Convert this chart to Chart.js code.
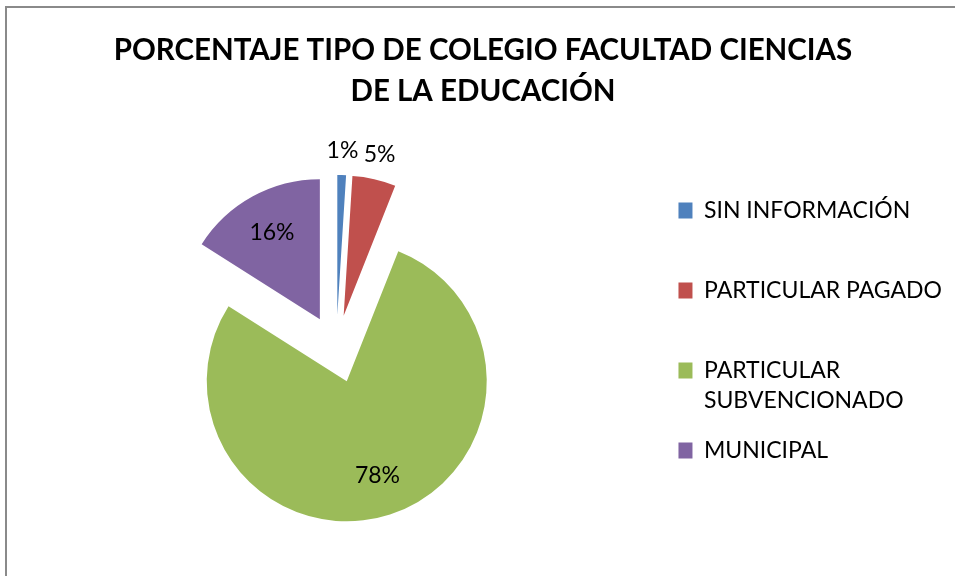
<!DOCTYPE html>
<html lang="es">
<head>
<meta charset="UTF-8">
<title>Porcentaje tipo de colegio</title>
<script src="https://cdn.jsdelivr.net/npm/chart.js"></script>
<style>
  body { margin: 0; background: #fff; }
  .wrap { position: relative; width: 955px; height: 576px; overflow: hidden; }
  .frame { position: absolute; left: 5px; top: 6px; width: 1000px; height: 600px; border: 2px solid #8a8a8a; }
  #pie { position: absolute; left: 0; top: 0; }
</style>
</head>
<body>
<div class="wrap">
  <div class="frame"></div>
  <canvas id="pie" width="955" height="576"></canvas>
</div>
<script>
const titleLines = ['PORCENTAJE TIPO DE COLEGIO FACULTAD CIENCIAS', 'DE LA EDUCACIÓN'];
const categories = ['SIN INFORMACIÓN', 'PARTICULAR PAGADO', 'PARTICULAR SUBVENCIONADO', 'MUNICIPAL'];
const percentages = [1, 5, 78, 16];
const colors = ['#4F81BD', '#C0504D', '#9BBB59', '#8064A2'];

const EXPLODE = 34; // px each slice is pulled out from the centre

// long legend entries go on two lines, short ones get an empty second line
function wrapLabel(label) {
  if (label.length > 20) {
    const cut = label.indexOf(' ');
    return [label.slice(0, cut), label.slice(cut + 1)];
  }
  return [label, ''];
}

// pull every slice out along its mid angle (the built-in offset narrows thin slices in 4.5)
const explode = {
  id: 'explode',
  beforeDatasetDraw(chart, args) {
    const area = chart.chartArea;
    const cx = (area.left + area.right) / 2;
    const cy = (area.top + area.bottom) / 2;
    args.meta.data.forEach(arc => {
      const mid = (arc.startAngle + arc.endAngle) / 2;
      arc.x = cx + Math.cos(mid) * EXPLODE;
      arc.y = cy + Math.sin(mid) * EXPLODE;
    });
  }
};

const sliceLabels = {
  id: 'sliceLabels',
  afterDatasetsDraw(chart) {
    const ctx = chart.ctx;
    const meta = chart.getDatasetMeta(0);
    ctx.save();
    ctx.font = '23px Lato';
    ctx.fillStyle = '#000';
    ctx.textAlign = 'center';
    ctx.textBaseline = 'middle';
    meta.data.forEach((arc, i) => {
      const mid = (arc.startAngle + arc.endAngle) / 2;
      const outside = percentages[i] < 10;
      const dist = outside ? arc.outerRadius + 25 : 0.71 * arc.outerRadius;
      ctx.fillText(percentages[i] + '%', arc.x + Math.cos(mid) * dist, arc.y + Math.sin(mid) * dist);
    });
    ctx.restore();
  }
};

new Chart(document.getElementById('pie'), {
  type: 'pie',
  data: {
    labels: categories,
    datasets: [{
      data: percentages,
      backgroundColor: colors,
      borderWidth: 0,
      radius: 140
    }]
  },
  options: {
    responsive: false,
    animation: false,
    events: [],
    layout: { padding: { left: 14, right: 3, top: 0, bottom: 0 } },
    plugins: {
      title: {
        display: true,
        text: titleLines,
        color: '#000',
        font: { family: 'Lato', size: 29.5, weight: 'bold', lineHeight: '41px' },
        padding: { top: 30, bottom: 10 }
      },
      legend: {
        position: 'right',
        align: 'center',
        fullSize: false,
        labels: {
          color: '#000',
          font: { family: 'Lato', size: 23, lineHeight: '30px' },
          boxWidth: 14,
          boxHeight: 16,
          padding: 20,
          generateLabels(chart) {
            const ds = chart.data.datasets[0];
            return chart.data.labels.map((label, i) => ({
              text: wrapLabel(label),
              fillStyle: ds.backgroundColor[i],
              strokeStyle: ds.backgroundColor[i],
              lineWidth: 0,
              fontColor: '#000',
              hidden: false,
              index: i
            }));
          }
        }
      },
      tooltip: { enabled: false }
    }
  },
  plugins: [explode, sliceLabels]
});
</script>
</body>
</html>
